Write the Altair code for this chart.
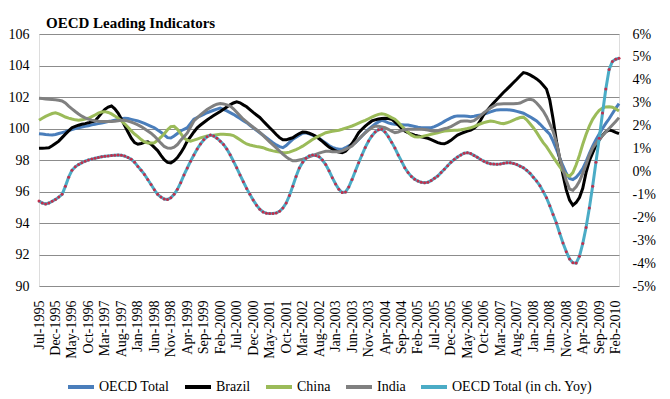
import altair as alt
import pandas as pd

# Monthly categories Jul-1995 .. Mar-2010
months = [d.strftime("%b-%Y") for d in pd.date_range("1995-07-01", "2010-03-01", freq="MS")]

tick_labels = [
    "Jul-1995", "Dec-1995", "May-1996", "Oct-1996", "Mar-1997", "Aug-1997", "Jan-1998",
    "Jun-1998", "Nov-1998", "Apr-1999", "Sep-1999", "Feb-2000", "Jul-2000", "Dec-2000",
    "May-2001", "Oct-2001", "Mar-2002", "Aug-2002", "Jan-2003", "Jun-2003", "Nov-2003",
    "Apr-2004", "Sep-2004", "Feb-2005", "Jul-2005", "Dec-2005", "May-2006", "Oct-2006",
    "Mar-2007", "Aug-2007", "Jan-2008", "Jun-2008", "Nov-2008", "Apr-2009", "Sep-2009",
    "Feb-2010",
]

oecd_total = [
    99.67, 99.65, 99.62, 99.60, 99.59, 99.62, 99.68, 99.74, 99.80, 99.87,
    99.93, 99.99, 100.05, 100.09, 100.14, 100.18, 100.23, 100.27, 100.31, 100.35,
    100.40, 100.44, 100.48, 100.53, 100.58, 100.62, 100.65, 100.63, 100.58, 100.53,
    100.48, 100.40, 100.32, 100.23, 100.14, 100.05, 99.90, 99.76, 99.60, 99.42,
    99.40, 99.52, 99.68, 99.84, 99.95, 100.05, 100.32, 100.59, 100.70, 100.80,
    100.90, 101.00, 101.08, 101.16, 101.23, 101.29, 101.22, 101.12, 101.01, 100.90,
    100.77, 100.64, 100.50, 100.37, 100.21, 100.05, 99.89, 99.73, 99.57, 99.41,
    99.25, 99.10, 98.96, 98.85, 98.78, 98.92, 99.12, 99.31, 99.45, 99.58,
    99.70, 99.73, 99.66, 99.58, 99.48, 99.38, 99.22, 99.08, 98.92, 98.80,
    98.73, 98.69, 98.68, 98.78, 98.90, 99.00, 99.10, 99.30, 99.52, 99.74,
    99.95, 100.12, 100.28, 100.42, 100.52, 100.45, 100.36, 100.30, 100.27, 100.25,
    100.24, 100.23, 100.22, 100.18, 100.13, 100.08, 100.05, 100.04, 100.04, 100.05,
    100.12, 100.22, 100.32, 100.45, 100.57, 100.67, 100.76, 100.80, 100.80, 100.80,
    100.78, 100.75, 100.78, 100.82, 100.86, 100.90, 100.98, 101.06, 101.13, 101.18,
    101.19, 101.19, 101.19, 101.18, 101.14, 101.09, 101.03, 100.97, 100.86, 100.74,
    100.61, 100.48, 100.28, 100.06, 99.85, 99.63, 99.20, 98.68, 98.14, 97.62,
    97.15, 96.82, 96.76, 96.90, 97.15, 97.45, 97.90, 98.40, 98.88, 99.28,
    99.65, 100.00, 100.32, 100.62, 100.95, 101.28, 101.58,
]

brazil = [
    98.74, 98.75, 98.76, 98.78, 98.90, 99.05, 99.20, 99.42, 99.64, 99.85,
    100.05, 100.14, 100.21, 100.27, 100.31, 100.36, 100.42, 100.48, 100.72, 100.98,
    101.22, 101.36, 101.43, 101.25, 100.98, 100.60, 100.18, 99.78, 99.38, 99.10,
    99.00, 99.05, 99.12, 99.16, 99.00, 98.80, 98.60, 98.30, 98.02, 97.85,
    97.82, 97.95, 98.15, 98.45, 98.80, 99.20, 99.48, 99.78, 100.05, 100.22,
    100.38, 100.54, 100.69, 100.82, 100.95, 101.08, 101.22, 101.36, 101.50, 101.62,
    101.69, 101.63, 101.50, 101.38, 101.20, 101.02, 100.86, 100.70, 100.48, 100.26,
    100.05, 99.84, 99.62, 99.42, 99.28, 99.28, 99.35, 99.41, 99.55, 99.68,
    99.77, 99.76, 99.70, 99.62, 99.50, 99.35, 99.18, 99.00, 98.82, 98.70,
    98.57, 98.50, 98.46, 98.55, 98.78, 99.05, 99.38, 99.73, 99.95, 100.15,
    100.32, 100.48, 100.55, 100.60, 100.64, 100.65, 100.63, 100.59, 100.42, 100.22,
    100.02, 99.84, 99.74, 99.65, 99.58, 99.52, 99.48, 99.43, 99.38, 99.30,
    99.20, 99.10, 99.05, 99.03, 99.12, 99.25, 99.42, 99.58, 99.68, 99.76,
    99.83, 99.89, 100.02, 100.20, 100.52, 100.90, 101.15, 101.40, 101.63, 101.86,
    102.08, 102.30, 102.50, 102.71, 102.92, 103.13, 103.35, 103.55, 103.50, 103.40,
    103.28, 103.15, 102.98, 102.75, 102.50, 101.80, 100.60, 99.20, 98.10, 97.05,
    96.10, 95.45, 95.13, 95.30, 95.62, 96.20, 97.20, 97.95, 98.45, 98.92,
    99.28, 99.58, 99.80, 99.90, 99.85, 99.75, 99.67,
]

china = [
    100.52, 100.65, 100.77, 100.86, 100.95, 101.00, 100.93, 100.83, 100.73, 100.66,
    100.60, 100.55, 100.52, 100.55, 100.60, 100.65, 100.75, 100.86, 100.97, 101.05,
    101.07, 101.02, 100.93, 100.80, 100.65, 100.48, 100.30, 100.08, 99.85, 99.65,
    99.48, 99.30, 99.15, 99.08, 99.08, 99.10, 99.25, 99.45, 99.67, 99.92,
    100.12, 100.14, 99.95, 99.68, 99.40, 99.25, 99.20, 99.26, 99.33, 99.40,
    99.47, 99.52, 99.55, 99.58, 99.61, 99.63, 99.63, 99.62, 99.60, 99.55,
    99.42, 99.28, 99.14, 99.02, 98.95, 98.90, 98.86, 98.83, 98.78, 98.70,
    98.63, 98.58, 98.54, 98.50, 98.47, 98.46, 98.50, 98.58, 98.66, 98.76,
    98.88, 99.02, 99.16, 99.30, 99.42, 99.53, 99.63, 99.73, 99.78, 99.82,
    99.86, 99.89, 99.95, 100.02, 100.09, 100.16, 100.25, 100.34, 100.43, 100.52,
    100.62, 100.72, 100.82, 100.90, 100.94, 100.90, 100.80, 100.69, 100.59, 100.40,
    100.18, 99.95, 99.75, 99.58, 99.48, 99.46, 99.48, 99.53, 99.58, 99.63,
    99.68, 99.73, 99.79, 99.84, 99.86, 99.88, 99.89, 99.89, 99.92, 99.96,
    100.00, 100.05, 100.12, 100.22, 100.30, 100.37, 100.43, 100.48, 100.45, 100.39,
    100.33, 100.31, 100.36, 100.44, 100.53, 100.62, 100.70, 100.72, 100.55, 100.30,
    100.05, 99.75, 99.42, 99.10, 98.85, 98.52, 98.20, 97.88, 97.58, 97.30,
    97.05, 96.97, 97.20, 97.70, 98.30, 99.00, 99.62, 100.15, 100.58, 100.90,
    101.15, 101.30, 101.37, 101.38, 101.35, 101.25, 101.11,
]

india = [
    101.92, 101.90, 101.88, 101.86, 101.84, 101.82, 101.79, 101.75, 101.62, 101.42,
    101.25, 101.08, 100.92, 100.78, 100.68, 100.60, 100.53, 100.49, 100.46, 100.45,
    100.44, 100.44, 100.44, 100.46, 100.49, 100.52, 100.52, 100.47, 100.40, 100.32,
    100.23, 100.12, 99.98, 99.84, 99.70, 99.52, 99.30, 99.07, 98.86, 98.76,
    98.74, 98.82, 98.98, 99.25, 99.48, 99.72, 100.10, 100.48, 100.67, 100.86,
    101.04, 101.20, 101.33, 101.45, 101.54, 101.58, 101.56, 101.50, 101.43, 101.25,
    101.03, 100.81, 100.59, 100.42, 100.25, 100.08, 99.92, 99.75, 99.56, 99.35,
    99.15, 98.96, 98.77, 98.57, 98.38, 98.20, 98.05, 97.95, 97.95, 98.00,
    98.05, 98.12, 98.20, 98.28, 98.36, 98.44, 98.50, 98.55, 98.55, 98.53,
    98.52, 98.52, 98.58, 98.67, 98.78, 98.89, 99.10, 99.32, 99.53, 99.73,
    99.90, 100.05, 100.15, 100.15, 100.10, 100.05, 99.95, 99.83, 99.74, 99.78,
    99.86, 99.92, 99.95, 99.96, 99.96, 99.95, 99.95, 99.93, 99.90, 99.86,
    99.84, 99.86, 99.92, 99.98, 100.04, 100.12, 100.24, 100.36, 100.46, 100.48,
    100.47, 100.45, 100.50, 100.65, 100.82, 101.00, 101.15, 101.30, 101.43, 101.54,
    101.56, 101.57, 101.57, 101.57, 101.57, 101.58, 101.62, 101.72, 101.82, 101.86,
    101.80, 101.62, 101.38, 101.11, 100.75, 100.30, 99.84, 99.10, 98.15, 97.40,
    96.70, 96.15, 96.08, 96.30, 96.65, 97.15, 97.70, 98.30, 98.75, 99.05,
    99.30, 99.55, 99.78, 100.00, 100.22, 100.45, 100.69,
]

oecd_yoy = [
    -1.29, -1.38, -1.42, -1.38, -1.30, -1.22, -1.12, -1.00, -0.65, -0.25,
    0.05, 0.20, 0.30, 0.38, 0.45, 0.50, 0.54, 0.58, 0.61, 0.64,
    0.66, 0.68, 0.70, 0.71, 0.72, 0.71, 0.67, 0.61, 0.53, 0.40,
    0.22, 0.05, -0.13, -0.35, -0.57, -0.80, -1.00, -1.12, -1.20, -1.22,
    -1.15, -1.00, -0.78, -0.49, -0.15, 0.15, 0.45, 0.72, 0.98, 1.20,
    1.38, 1.52, 1.59, 1.55, 1.45, 1.32, 1.18, 0.98, 0.73, 0.45,
    0.16, -0.15, -0.45, -0.74, -1.00, -1.25, -1.47, -1.65, -1.77, -1.82,
    -1.84, -1.83, -1.81, -1.74, -1.60, -1.38, -1.05, -0.65, -0.22, 0.15,
    0.40, 0.58, 0.68, 0.72, 0.70, 0.64, 0.50, 0.30, 0.03, -0.27,
    -0.55, -0.78, -0.92, -0.90, -0.68, -0.35, 0.02, 0.38, 0.72, 1.05,
    1.33, 1.55, 1.72, 1.82, 1.84, 1.72, 1.52, 1.28, 1.02, 0.72,
    0.45, 0.16, -0.05, -0.22, -0.34, -0.42, -0.47, -0.49, -0.47, -0.40,
    -0.30, -0.20, -0.05, 0.10, 0.25, 0.40, 0.52, 0.63, 0.72, 0.80,
    0.82, 0.78, 0.70, 0.62, 0.52, 0.45, 0.38, 0.34, 0.32, 0.31,
    0.33, 0.36, 0.38, 0.38, 0.35, 0.30, 0.23, 0.16, 0.05, -0.08,
    -0.25, -0.42, -0.62, -0.88, -1.15, -1.50, -1.88, -2.25, -2.70, -3.12,
    -3.50, -3.82, -3.98, -4.00, -3.70, -3.15, -2.45, -1.60, -0.65, 0.40,
    1.45, 2.55, 3.60, 4.45, 4.80, 4.90, 4.94,
]

series_names = ["OECD Total", "Brazil", "China", "India", "OECD Total (in ch. Yoy)"]
series_colors = ["#4A7EBB", "#000000", "#9BBB59", "#808080", "#4BACC6"]
left_values = [90, 92, 94, 96, 98, 100, 102, 104, 106]
right_values = [-5, -4, -3, -2, -1, 0, 1, 2, 3, 4, 5, 6]

FONT = "Liberation Serif"

rows = []
for name, vals in zip(series_names[:4], [oecd_total, brazil, china, india]):
    for m, v in zip(months, vals):
        rows.append({"month": m, "value": v, "series": name})
df_left = pd.DataFrame(rows)
df_right = pd.DataFrame({"month": months, "pct": oecd_yoy, "series": series_names[4]})

color = alt.Color(
    "series:N",
    scale=alt.Scale(domain=series_names, range=series_colors),
    legend=alt.Legend(
        title=None,
        orient="none",
        legendX=27,
        legendY=338,
        direction="horizontal",
        symbolType="stroke",
        symbolStrokeWidth=4,
        symbolSize=676,
        labelFont=FONT,
        labelFontSize=14,
        labelColor="#000000",
        labelOffset=3,
        columnPadding=7,
    ),
)

x = alt.X(
    "month:O",
    sort=months,
    scale=alt.Scale(type="point", padding=0),
    axis=alt.Axis(
        values=tick_labels,
        labelAngle=270,
        labelFont=FONT,
        labelFontSize=14,
        labelColor="#000000",
        labelPadding=14,
        ticks=False,
        domain=False,
        grid=False,
        title=None,
    ),
)

right_axis = alt.Axis(
    orient="right",
    values=right_values,
    labelExpr="datum.value + '%'",
    grid=False,
    ticks=False,
    domain=False,
    labelFont=FONT,
    labelFontSize=14,
    labelColor="#000000",
    labelPadding=13,
    labelAlign="left",
    title=None,
)
right_scale = alt.Scale(domain=[-5, 6], nice=False, zero=False)

left = alt.Chart(df_left).mark_line(strokeWidth=3).encode(
    x=x,
    y=alt.Y(
        "value:Q",
        scale=alt.Scale(domain=[90, 106], nice=False, zero=False),
        axis=alt.Axis(
            orient="left",
            values=left_values,
            grid=True,
            gridColor="#8C8C8C",
            gridWidth=1,
            ticks=False,
            domain=False,
            labelFont=FONT,
            labelFontSize=14,
            labelColor="#000000",
            labelPadding=10,
            title=None,
        ),
    ),
    color=color,
)

right_line = alt.Chart(df_right).mark_line(strokeWidth=3).encode(
    x=x,
    y=alt.Y("pct:Q", scale=right_scale, axis=right_axis),
    color=color,
)

right_dots = alt.Chart(df_right).mark_circle(size=9, opacity=1, color="#C0304D").encode(
    x=x,
    y=alt.Y("pct:Q", scale=right_scale, axis=right_axis),
)

chart = (
    alt.layer(left, alt.layer(right_line, right_dots))
    .resolve_scale(y="independent")
    .properties(
        width=580,
        height=252,
        padding={"left": 0, "top": 8, "right": 5, "bottom": 0},
        title=alt.TitleParams(
            "OECD Leading Indicators",
            anchor="start",
            frame="group",
            dx=7,
            offset=-4,
            font=FONT,
            fontSize=15,
            fontWeight="bold",
            color="#000000",
        ),
    )
    .configure_view(stroke=None)
    .configure(background="#FFFFFF")
)

chart.save("out.html", embed_options={"renderer": "svg", "actions": False})
